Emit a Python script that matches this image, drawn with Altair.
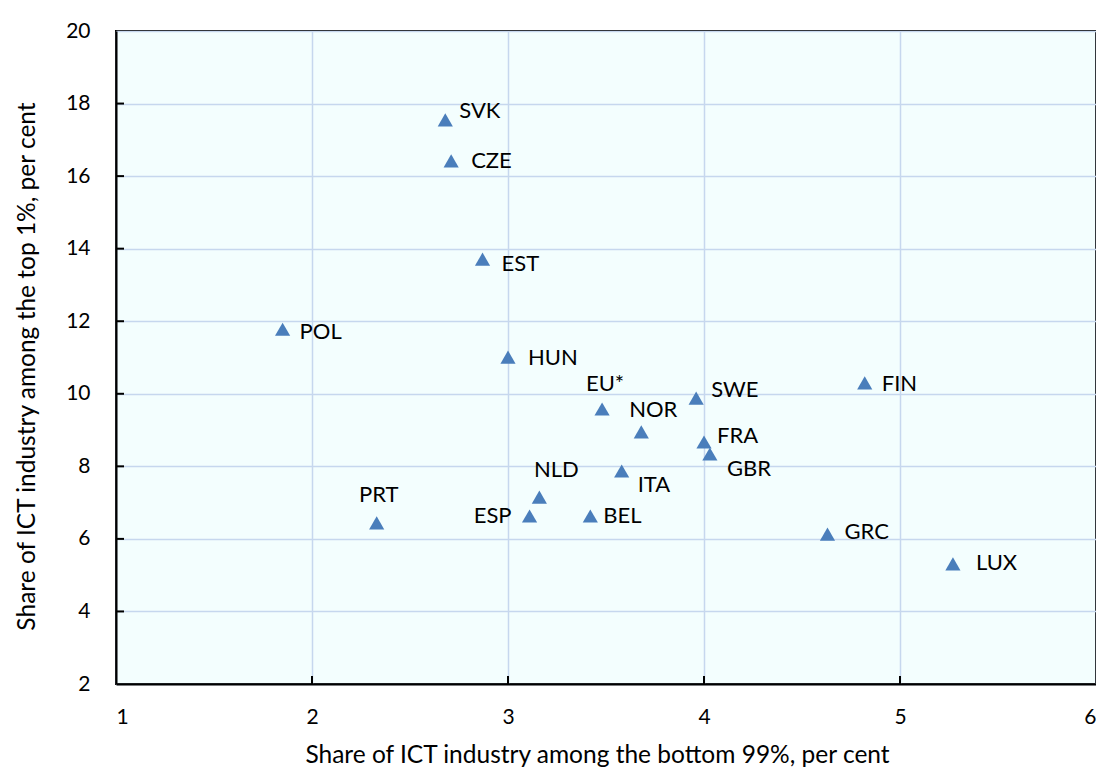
import altair as alt
import pandas as pd

countries = ["SVK", "CZE", "EST", "POL", "HUN", "EU*", "NOR", "SWE", "FIN",
             "FRA", "GBR", "ITA", "NLD", "ESP", "BEL", "PRT", "GRC", "LUX"]
bottom99 = [2.68, 2.71, 2.87, 1.85, 3.00, 3.48, 3.68, 3.96, 4.82,
            4.00, 4.03, 3.58, 3.16, 3.11, 3.42, 2.33, 4.63, 5.27]
top1 = [17.55, 16.42, 13.71, 11.78, 11.01, 9.58, 8.95, 9.88, 10.30,
        8.67, 8.34, 7.87, 7.15, 6.63, 6.63, 6.44, 6.13, 5.31]
x_ticks = [1, 2, 3, 4, 5, 6]
y_ticks = [2, 4, 6, 8, 10, 12, 14, 16, 18, 20]

df = pd.DataFrame({"country": countries, "x": bottom99, "y": top1})

# label placement (align, dx, dy in pixels)
label_place = {
    "SVK": ("left", 14, -9), "CZE": ("left", 20, 0), "EST": ("left", 19, 5),
    "POL": ("left", 17, 3), "HUN": ("left", 20, 1), "EU*": ("center", 3, -25),
    "NOR": ("center", 12, -22), "SWE": ("left", 15, -8), "FIN": ("left", 17, 1),
    "FRA": ("left", 13, -6), "GBR": ("left", 17, 15), "ITA": ("left", 16, 14),
    "NLD": ("center", 17, -27), "ESP": ("right", -18, 0), "BEL": ("left", 13, 0),
    "PRT": ("center", 2, -28), "GRC": ("left", 17, -2), "LUX": ("left", 23, -1),
}

FONT = "Lato"
W, H = 980, 653

xs = alt.Scale(domain=[1, 6], nice=False, zero=False)
ys = alt.Scale(domain=[2, 20], nice=False, zero=False)

base = alt.Chart(df)

points = base.mark_point(shape="triangle-up", filled=True, size=230,
                         color="#4A7EBB", opacity=1).encode(
    x=alt.X("x:Q", scale=xs,
            axis=alt.Axis(title="Share of ICT industry among the bottom 99%, per cent",
                          values=x_ticks, format="d", titleX=481)),
    y=alt.Y("y:Q", scale=ys,
            axis=alt.Axis(title="Share of ICT industry among the top 1%, per cent",
                          values=y_ticks, format="d", titleY=335)),
)

labels = []
for c in countries:
    al, dx, dy = label_place[c]
    labels.append(
        base.transform_filter(alt.datum.country == c).mark_text(
            align=al, baseline="middle", dx=dx, dy=dy,
            font=FONT, fontSize=22, color="#000000"
        ).encode(x=alt.X("x:Q", scale=xs), y=alt.Y("y:Q", scale=ys), text="country:N")
    )

ytick_df = pd.DataFrame({"v": y_ticks[1:-1]})
xtick_df = pd.DataFrame({"v": x_ticks[1:-1]})
ytick_marks = alt.Chart(ytick_df).mark_rule(color="black", strokeWidth=2).encode(
    y=alt.Y("v:Q", scale=ys), x=alt.value(0), x2=alt.value(8))
xtick_marks = alt.Chart(xtick_df).mark_rule(color="black", strokeWidth=2).encode(
    x=alt.X("v:Q", scale=xs), y=alt.value(H - 8), y2=alt.value(H))

chart = alt.layer(points, *labels, ytick_marks, xtick_marks).properties(
    width=W, height=H,
    autosize=alt.AutoSizeParams(type="none"),
    padding={"left": 108, "top": 23, "right": 0, "bottom": 83},
).configure_view(
    fill="#F3FEFE", stroke="black", strokeWidth=2
).configure_axis(
    grid=True, gridColor="#C6D7EE", gridWidth=1.5, ticks=False,
    domainColor="black", domainWidth=2,
    labelFont=FONT, labelFontSize=21, labelColor="black",
    titleFont=FONT, titleFontSize=24.5, titleColor="black", titleFontWeight="normal",
).configure_axisX(
    labelPadding=22, titlePadding=16
).configure_axisY(
    labelPadding=26, titlePadding=26
)

chart.save("out.html", embed_options={"renderer": "svg", "actions": False})
